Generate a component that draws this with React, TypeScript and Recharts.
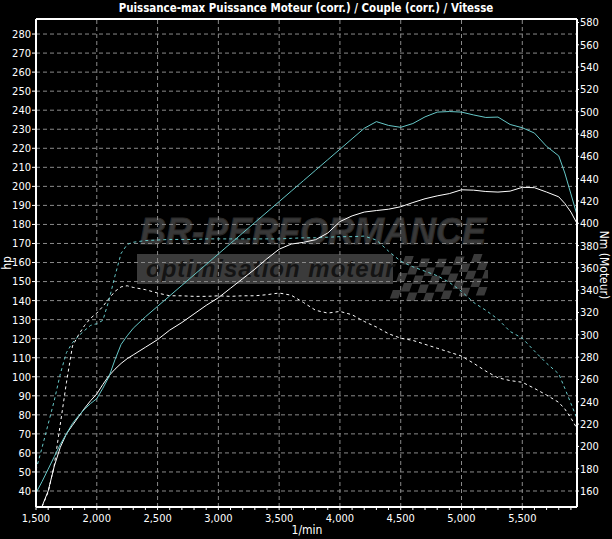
import { CartesianGrid, Line, LineChart, ReferenceLine, XAxis, YAxis } from "recharts";

const FONT = "'Liberation Sans Narrow', 'Arial Narrow', 'DejaVu Sans Condensed', sans-serif";
const CYAN = "#66c8c8";

// engine speed (1/min)
const rpm = [
  1500, 1550, 1600, 1650, 1700, 1750, 1800, 1850, 1900, 1950, 2000, 2050, 2100, 2150, 2200, 2250, 2300,
  2400, 2500, 2600, 2700, 2800, 2900, 3000, 3100, 3200, 3300, 3400, 3500, 3600, 3700, 3800, 3900, 4000,
  4100, 4200, 4300, 4400, 4500, 4600, 4700, 4800, 4900, 5000, 5100, 5200, 5300, 5400, 5500, 5600, 5700,
  5800, 5850, 5900, 5950,
];

// power after tuning (hp) - cyan solid
const tunedHp = [
  39, 45, 51.5, 58, 64.5, 70, 75.5, 79.5, 83, 86, 88.5, 94, 100, 109, 117, 121.5, 125.5,
  131.5, 137, 142.5, 148, 153.5, 159, 164.5, 170, 175.5, 181, 186.5, 192, 197.5, 203, 208.5, 214, 219.5,
  225, 230.5, 234, 232, 231, 233, 236.5, 239, 239.3, 239, 237.5, 236.2, 236.4, 232.5, 230.8, 228, 221,
  216, 207, 196, 185,
];

// power stock (hp) - white solid
const stockHp = [
  null, 32, 40, 53, 63, 70, 74.5, 79, 83.5, 87.5, 91, 96, 100.5, 104, 107, 109.5, 111.5,
  115.5, 119.5, 124.5, 128.5, 133, 137.5, 141.5, 146.5, 151.5, 156.5, 162, 167, 169.7, 170.6, 172, 175.5, 181.5,
  184.5, 186.5, 187.3, 188, 189.3, 191.5, 193.5, 195, 196.2, 198.2, 198, 197.3, 197, 197.5, 199.5, 199.3, 197,
  194.5, 191, 186.5, 180.5,
];

// torque after tuning (Nm) - cyan dashed
const tunedNm = [
  179, 199, 220, 241, 265, 284, 293, 299, 304, 308.5, 310, 313, 331, 353, 373, 381, 383,
  384.5, 385, 385.5, 385.5, 385.5, 386, 386, 386, 386, 386, 386, 386, 386.5, 387, 387, 387.5, 388,
  388, 388.5, 385, 375, 366, 361, 357, 353, 347, 339, 329, 322, 314, 303, 297, 285.5, 274.5,
  265, 252, 238.5, 225,
];

// torque stock (Nm) - white dashed
const stockNm = [
  null, 146, 159, 183, 220, 257, 290, 300, 308.5, 315, 319.5, 325.5, 332.5, 339, 343, 344, 342.5,
  340.5, 337.5, 335, 335, 334.5, 334.5, 335, 334.5, 335, 335, 336, 337.5, 335.5, 329, 322, 319.5, 321,
  318, 312, 307, 301, 297, 295, 291.5, 288, 284.5, 281, 274.5, 267.5, 261.5, 259, 257.5, 252, 246,
  239.5, 233.5, 225.5, 216,
];

const hpTicks = [40, 50, 60, 70, 80, 90, 100, 110, 120, 130, 140, 150, 160, 170, 180, 190, 200, 210, 220, 230, 240, 250, 260, 270, 280];
const nmTicks = [160, 180, 200, 220, 240, 260, 280, 300, 320, 340, 360, 380, 400, 420, 440, 460, 480, 500, 520, 540, 560, 580];
const rpmLabels = [1500, 2000, 2500, 3000, 3500, 4000, 4500, 5000, 5500];
const rpmMinor = Array.from({ length: 45 }, (_, i) => 1500 + i * 100);

const HP_DOMAIN = [31.6, 287.9];
const NM_DOMAIN = [145.7, 583.1];

const data = rpm.map((r, i) => ({
  rpm: r,
  tunedHp: tunedHp[i],
  stockHp: stockHp[i],
  tunedNm: tunedNm[i],
  stockNm: stockNm[i],
}));

const RpmTick = (props: any) => {
  const { x, y, payload } = props;
  if (!rpmLabels.includes(payload.value)) return <g />;
  return (
    <text x={x} y={y} dy={10} textAnchor="middle" fill="#fff" fontSize={11} fontFamily={FONT}>
      {payload.value.toLocaleString("en-US")}
    </text>
  );
};

const Flag = () => {
  const cells = [];
  for (let r = 0; r < 5; r++) {
    for (let c = 0; c < 11; c++) {
      if ((r + c) % 2 === 0) {
        cells.push(<rect key={`${r}-${c}`} x={c * 8.5} y={r * 8.5 + Math.sin(c / 2) * 3} width={8.5} height={8.5} fill="#3a3a3a" />);
      }
    }
  }
  return (
    <svg width={100} height={50} style={{ position: "absolute", left: 388, top: 254 }}>
      <g transform="skewX(-20) translate(18,2)">{cells}</g>
    </svg>
  );
};

const Watermark = () => (
  <div style={{ position: "absolute", left: 0, top: 0, width: 612, height: 539 }}>
    <div
      style={{
        position: "absolute",
        left: 140,
        top: 212,
        fontFamily: "'Liberation Sans', Arial, sans-serif",
        fontWeight: 900,
        fontStyle: "italic",
        fontSize: 36,
        lineHeight: "40px",
        color: "#383838",
        WebkitTextStroke: "1px #2a2a2a",
      }}
    >
      BR-PERFORMANCE
    </div>
    <div
      style={{
        position: "absolute",
        left: 137,
        top: 254,
        width: 256,
        height: 30,
        background: "#3b3b3b",
      }}
    />
    <div
      style={{
        position: "absolute",
        left: 146,
        top: 254,
        fontFamily: "'Liberation Sans', Arial, sans-serif",
        fontWeight: 700,
        fontStyle: "italic",
        fontSize: 24,
        lineHeight: "30px",
        color: "#141414",
        letterSpacing: 1,
      }}
    >
      optimisation moteur
    </div>
    <Flag />
  </div>
);

export default function App() {
  return (
    <div style={{ position: "absolute", left: 0, top: 0, width: 612, height: 539, background: "#000", overflow: "hidden" }}>
      <Watermark />
      <div style={{ position: "absolute", left: 0, top: 0 }}>
        <LineChart width={612} height={539} data={data} margin={{ top: 19, right: 5, bottom: 12, left: 6 }}>
          <CartesianGrid yAxisId="hp" vertical={false} stroke="#8a8a8a" strokeDasharray="4 3" />
          {rpmLabels.slice(1).map((v) => (
            <ReferenceLine key={v} x={v} yAxisId="hp" stroke="#8a8a8a" strokeDasharray="4 3" />
          ))}
          <ReferenceLine y={HP_DOMAIN[1]} yAxisId="hp" stroke="#fff" strokeWidth={2} />
          <XAxis
            type="number"
            dataKey="rpm"
            domain={[1500, 5950]}
            ticks={rpmMinor}
            interval={0}
            allowDataOverflow
            height={20}
            tick={<RpmTick />}
            tickSize={3}
            tickMargin={2}
            tickLine={{ stroke: "#fff" }}
            axisLine={{ stroke: "#fff", strokeWidth: 2 }}
          />
          <YAxis
            yAxisId="hp"
            orientation="left"
            domain={HP_DOMAIN}
            ticks={hpTicks}
            interval={0}
            allowDataOverflow
            width={30}
            tickSize={4}
            tickMargin={1}
            tick={{ fill: "#fff", fontSize: 11, fontFamily: FONT }}
            tickLine={{ stroke: "#fff" }}
            axisLine={{ stroke: "#fff", strokeWidth: 2 }}
          />
          <YAxis
            yAxisId="nm"
            orientation="right"
            domain={NM_DOMAIN}
            ticks={nmTicks}
            interval={0}
            allowDataOverflow
            width={30}
            tickSize={2}
            tickMargin={1}
            tick={{ fill: "#fff", fontSize: 11, fontFamily: FONT }}
            tickLine={{ stroke: "#fff" }}
            axisLine={{ stroke: "#fff", strokeWidth: 2 }}
          />
          <Line yAxisId="nm" dataKey="stockNm" type="linear" stroke="#fff" strokeWidth={1} strokeDasharray="3 3" dot={false} isAnimationActive={false} />
          <Line yAxisId="nm" dataKey="tunedNm" type="linear" stroke={CYAN} strokeWidth={1} strokeDasharray="3 3" dot={false} isAnimationActive={false} />
          <Line yAxisId="hp" dataKey="stockHp" type="linear" stroke="#fff" strokeWidth={1} dot={false} isAnimationActive={false} />
          <Line yAxisId="hp" dataKey="tunedHp" type="linear" stroke={CYAN} strokeWidth={1} dot={false} isAnimationActive={false} />
        </LineChart>
      </div>
      <div
        style={{
          position: "absolute",
          left: 0,
          top: 0,
          width: 612,
          textAlign: "center",
          color: "#fff",
          fontFamily: FONT,
          fontWeight: 700,
          fontSize: 13,
          lineHeight: "16px",
          transform: "scaleX(0.88)",
        }}
      >
        Puissance-max Puissance Moteur (corr.) / Couple (corr.) / Vitesse
      </div>
      <div
        style={{
          position: "absolute",
          left: 7,
          top: 263,
          color: "#fff",
          fontFamily: FONT,
          fontSize: 12,
          transform: "translate(-50%, -50%) rotate(-90deg)",
          whiteSpace: "nowrap",
        }}
      >
        hp
      </div>
      <div
        style={{
          position: "absolute",
          left: 604,
          top: 265,
          color: "#fff",
          fontFamily: FONT,
          fontSize: 12,
          transform: "translate(-50%, -50%) rotate(90deg)",
          whiteSpace: "nowrap",
        }}
      >
        Nm (Moteur)
      </div>
      <div
        style={{
          position: "absolute",
          left: 307,
          top: 530,
          color: "#fff",
          fontFamily: FONT,
          fontSize: 12,
          transform: "translate(-50%, -50%)",
          whiteSpace: "nowrap",
        }}
      >
        1/min
      </div>
    </div>
  );
}
